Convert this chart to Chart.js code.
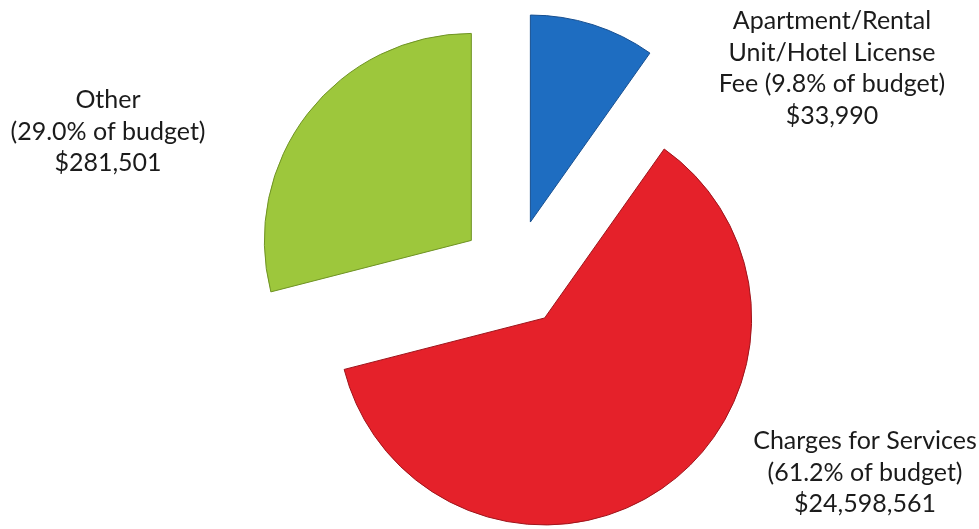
<!DOCTYPE html>
<html>
<head>
<meta charset="utf-8">
<script src="https://cdn.jsdelivr.net/npm/chart.js@4.4.1/dist/chart.umd.min.js"></script>
<style>
  html, body { margin: 0; padding: 0; background: #ffffff; }
  #wrap { position: relative; width: 979px; height: 529px; }
</style>
</head>
<body>
<div id="wrap"><canvas id="c" width="979" height="529"></canvas></div>
<script>
// ---- data ----
const categories = ["Apartment/Rental Unit/Hotel License Fee", "Charges for Services", "Other"];
const shares = [9.8, 61.2, 29.0];            // percent of budget
const amounts = ["$33,990", "$24,598,561", "$281,501"];
const labelLines = [
  ["Apartment/Rental", "Unit/Hotel License", "Fee (9.8% of budget)", "$33,990"],
  ["Charges for Services", "(61.2% of budget)", "$24,598,561"],
  ["Other", "(29.0% of budget)", "$281,501"]
];
const colors = ["#1e6dc1", "#e5212a", "#9dc73c"];
const borderColors = ["#174f90", "#9e141b", "#6f9324"];

// ---- layout / style ----
const EXPLODE = [54, 54, 54];
const LABEL_POS = [ [832, 21], [865, 441], [108, 100] ];
const LINE_H = 31.5;
const FONT = "25px Lato, 'Open Sans', sans-serif";

const explodePlugin = {
  id: 'explode',
  beforeDatasetsDraw(chart) {
    const a = chart.chartArea;
    const cx = (a.left + a.right) / 2, cy = (a.top + a.bottom) / 2;
    chart.getDatasetMeta(0).data.forEach((arc, i) => {
      const mid = (arc.startAngle + arc.endAngle) / 2;
      arc.x = cx + Math.cos(mid) * EXPLODE[i];
      arc.y = cy + Math.sin(mid) * EXPLODE[i];
    });
  }
};

const labelPlugin = {
  id: 'sliceLabels',
  afterDraw(chart) {
    const ctx = chart.ctx;
    ctx.save();
    ctx.font = FONT;
    ctx.fillStyle = "#1b1b1b";
    ctx.textAlign = "center";
    ctx.textBaseline = "middle";
    labelLines.forEach((lines, i) => {
      const [x, y] = LABEL_POS[i];
      lines.forEach((t, k) => ctx.fillText(t, x, y + k * LINE_H));
    });
    ctx.restore();
  }
};

new Chart(document.getElementById('c'), {
  type: 'pie',
  data: {
    labels: categories,
    datasets: [{
      data: shares,
      backgroundColor: colors,
      borderColor: borderColors,
      borderWidth: 1,
      radius: 207
    }]
  },
  options: {
    responsive: false,
    animation: false,
    events: [],
    layout: { padding: { left: 49, top: 18, right: 0, bottom: 0 } },
    plugins: { legend: { display: false }, tooltip: { enabled: false } }
  },
  plugins: [explodePlugin, labelPlugin]
});
</script>
</body>
</html>
